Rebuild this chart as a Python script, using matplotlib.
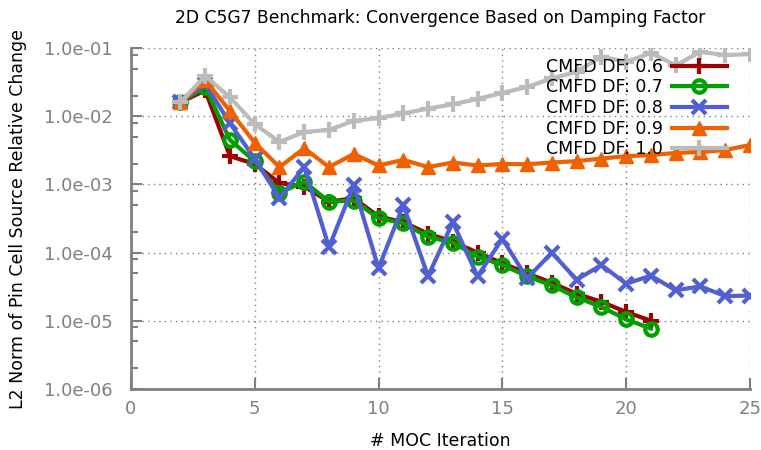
import numpy as np
import matplotlib.pyplot as plt
from matplotlib.ticker import LogLocator, FuncFormatter

# MOC iteration numbers
iters_short = list(range(2, 22))
iters_long = list(range(2, 26))

df06 = [1.6e-2, 2.4e-2, 2.6e-3, 2.0e-3, 1.05e-3, 9.3e-4, 5.6e-4, 6.3e-4, 3.4e-4, 2.8e-4,
        1.9e-4, 1.45e-4, 1.0e-4, 7.0e-5, 5.0e-5, 3.6e-5, 2.5e-5, 1.9e-5, 1.35e-5, 1.0e-5]
df07 = [1.6e-2, 2.7e-2, 4.5e-3, 2.2e-3, 7.5e-4, 1.1e-3, 5.6e-4, 5.8e-4, 3.2e-4, 2.7e-4,
        1.7e-4, 1.4e-4, 8.7e-5, 6.6e-5, 4.5e-5, 3.3e-5, 2.2e-5, 1.6e-5, 1.05e-5, 7.7e-6]
df08 = [1.6e-2, 3.0e-2, 7.9e-3, 2.4e-3, 6.3e-4, 1.8e-3, 1.2e-4, 9.8e-4, 5.9e-5, 5.0e-4,
        4.5e-5, 2.8e-4, 4.5e-5, 1.6e-4, 4.2e-5, 1.0e-4, 4.0e-5, 6.6e-5, 3.5e-5, 4.6e-5,
        2.8e-5, 3.2e-5, 2.3e-5, 2.35e-5]
df09 = [1.6e-2, 3.4e-2, 1.2e-2, 4.1e-3, 1.8e-3, 3.4e-3, 1.8e-3, 2.8e-3, 1.9e-3, 2.3e-3,
        1.8e-3, 2.1e-3, 1.9e-3, 2.0e-3, 1.98e-3, 2.1e-3, 2.2e-3, 2.4e-3, 2.6e-3, 2.7e-3,
        2.9e-3, 3.0e-3, 3.2e-3, 3.8e-3]
df10 = [1.6e-2, 3.9e-2, 1.9e-2, 7.7e-3, 4.2e-3, 5.9e-3, 6.3e-3, 8.6e-3, 9.4e-3, 1.1e-2,
        1.3e-2, 1.5e-2, 1.8e-2, 2.2e-2, 2.7e-2, 3.6e-2, 4.5e-2, 7.5e-2, 6.3e-2, 8.5e-2,
        5.6e-2, 8.8e-2, 7.9e-2, 8.2e-2]

fig = plt.figure(figsize=(7.61, 4.5), dpi=100)
ax = fig.add_axes([0.172, 0.1356, 0.8135, 0.7574])

ax.plot(iters_short, df06, color='#a00000', lw=3, marker='+', ms=11, mew=3, label='CMFD DF: 0.6')
ax.plot(iters_short, df07, color='#00a000', lw=3, marker='o', ms=9, mew=3, mfc='none', label='CMFD DF: 0.7')
ax.plot(iters_long, df08, color='#5060d0', lw=3, marker='x', ms=10, mew=3, label='CMFD DF: 0.8')
ax.plot(iters_long, df09, color='#f06000', lw=3, marker='^', ms=10, label='CMFD DF: 0.9')
ax.plot(iters_long, df10, color='#bbbbbb', lw=3, marker='+', ms=11, mew=3, label='CMFD DF: 1.0')

ax.set_yscale('log')
ax.set_xlim(0, 25)
ax.set_ylim(1e-6, 1e-1)
ax.set_xticks([0, 5, 10, 15, 20, 25])
ax.yaxis.set_major_locator(LogLocator(base=10, numticks=10))
ax.yaxis.set_minor_locator(LogLocator(base=10, subs=[2, 5, 8], numticks=10))
ax.yaxis.set_major_formatter(FuncFormatter(lambda v, p: '%.1e' % v))

for s in ['top', 'right']:
    ax.spines[s].set_visible(False)
for s in ['left', 'bottom']:
    ax.spines[s].set_color('#808080')
    ax.spines[s].set_linewidth(2)
ax.tick_params(which='both', direction='in', colors='#808080', labelsize=13, width=1.5)
ax.tick_params(which='major', length=8)
ax.tick_params(which='minor', length=5)
ax.tick_params(axis='x', pad=8)
ax.tick_params(axis='y', pad=13)
ax.grid(True, which='major', ls=(0, (1, 3)), color='#808080', lw=1)

ax.set_xlabel('# MOC Iteration', fontsize=12.5, labelpad=10)
ax.set_ylabel('L2 Norm of Pin Cell Source Relative Change', fontsize=12.5, labelpad=12)
ax.set_title('2D C5G7 Benchmark: Convergence Based on Damping Factor', fontsize=12.3, pad=18)

ax.legend(loc='upper right', frameon=False, markerfirst=False, fontsize=12.5,
          handlelength=3.2, labelspacing=0.15, borderaxespad=1.2, handletextpad=0.5,
          bbox_to_anchor=(1.008, 1.053))

fig.savefig('out.png', dpi=100)
